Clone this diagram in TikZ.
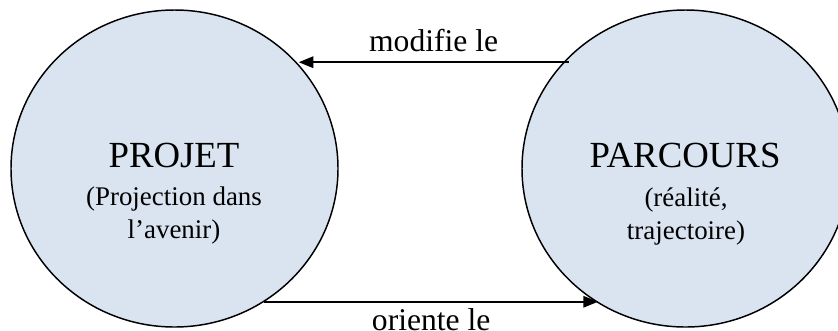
\documentclass[tikz,border=0pt]{standalone}
\usepackage{fontspec}
\setmainfont{Liberation Serif}
\usetikzlibrary{shapes.geometric,arrows.meta}
\definecolor{bubblefill}{RGB}{218,227,240}
\tikzset{
  bubble/.style={ellipse, draw, line width=1.1pt, fill=bubblefill,
    minimum width=245.25pt, minimum height=237.75pt, inner sep=0pt},
  title/.style={anchor=base, inner sep=0pt, font=\fontsize{27.6}{33}\selectfont},
  subtxt/.style={anchor=north, inner sep=0pt, align=center,
    font=\fontsize{20.2}{24.75}\selectfont},
  arr/.style={line width=1.6pt, -{Triangle[length=11pt,width=8.5pt]}},
  lbl/.style={inner sep=7pt, font=\fontsize{23.7}{28}\selectfont}
}
\begin{document}
\begin{tikzpicture}[x=0.75pt,y=0.75pt,yscale=-1,xscale=1]
\useasboundingbox (0,0) rectangle (838,330);

\node[bubble] (projet)   at (174.5,168.5) {};
\node[bubble] (parcours) at (685.5,168.5) {};

\node[title]  (projettitle)   at (174,167) {PROJET};
\node[subtxt] (projetsub)     at (174,187) {(Projection dans\\l’avenir)};
\node[title]  (parcourstitle) at (685,167) {PARCOURS};
\node[subtxt] (parcourssub)   at (686,187) {(réalité,\\trajectoire)};

% parcours -> projet
\draw[arr] ([xshift=4pt]parcours.139.6) -- (parcours.139.6 -| projet.40.4)
  node[lbl, midway, above] (modlbl) {modifie le};
% projet -> parcours
\draw[arr] (projet.-56.6) -- (projet.-56.6 -| parcours.-123.4)
  node[lbl, inner sep=4.5pt, midway, below] (orilbl) {oriente le};

\end{tikzpicture}
\end{document}
